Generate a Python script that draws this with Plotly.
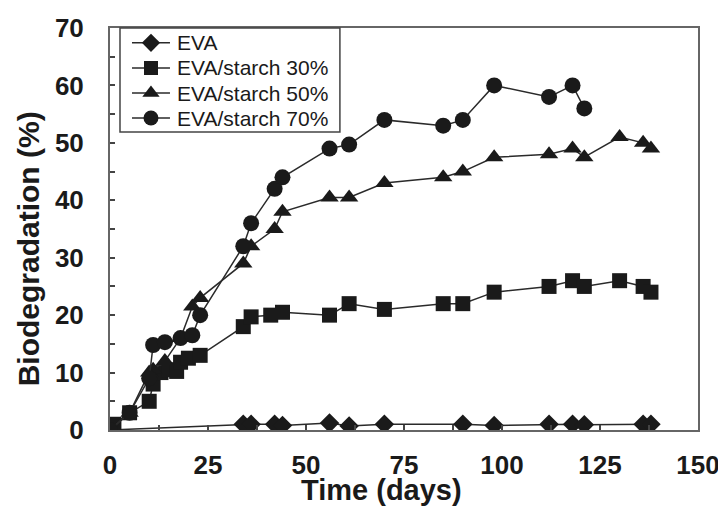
import plotly.graph_objects as go

# Data (days, biodegradation %)
eva_x = [0, 34, 36, 42, 44, 56, 61, 70, 90, 98, 112, 118, 121, 136, 138]
eva_y = [0, 1, 1, 1, 0.8, 1.2, 0.7, 1, 1, 0.8, 1, 1, 0.9, 1, 1]

s30_x = [0, 1, 5, 10, 11, 13, 15, 17, 18, 20, 23, 34, 36, 41, 44, 56, 61, 70, 85, 90, 98, 112, 118, 121, 130, 136, 138]
s30_y = [0, 1, 3, 5, 8, 10, 10.5, 10.2, 11.8, 12.5, 13, 18, 19.7, 20, 20.5, 20, 22, 21, 22, 22, 24, 25, 26, 25, 26, 25, 24]

s50_x = [0, 5, 10, 11, 14, 18, 21, 23, 34, 36, 42, 44, 56, 61, 70, 85, 90, 98, 112, 118, 121, 130, 136, 138]
s50_y = [0, 3, 10, 10.5, 12, 16, 21.5, 23, 29, 32, 35, 38, 40.5, 40.5, 43, 44, 45, 47.5, 48, 49, 47.5, 51, 50, 49]

s70_x = [0, 5, 10, 11, 14, 18, 21, 23, 34, 36, 42, 44, 56, 61, 70, 85, 90, 98, 112, 118, 121]
s70_y = [0, 3, 9, 14.8, 15.3, 16, 16.5, 20, 32, 36, 42, 44, 49, 49.7, 54, 53, 54, 60, 58, 60, 56]

x_ticks = [0, 25, 50, 75, 100, 125, 150]
y_ticks = [0, 10, 20, 30, 40, 50, 60, 70]

names = ["EVA", "EVA/starch 30%", "EVA/starch 50%", "EVA/starch 70%"]
symbols = ["diamond", "square", "triangle-up", "circle"]
sizes = [15, 15, 16, 16]
series = [(eva_x, eva_y), (s30_x, s30_y), (s50_x, s50_y), (s70_x, s70_y)]

FONT = "Liberation Sans, Arial, sans-serif"
INK = "#1a1a1a"
LINE = "#2a2a2a"

fig = go.Figure()
for (xs, ys), n, sym, sz in zip(series, names, symbols, sizes):
    fig.add_trace(go.Scatter(
        x=xs, y=ys, name=n, mode="lines+markers", showlegend=False,
        line=dict(color=LINE, width=1.5),
        marker=dict(symbol=sym, size=sz, color=INK, line=dict(width=0)),
    ))

# Custom legend (paper-coordinate overlay axes)
leg_y = [0.963, 0.9005, 0.838, 0.776]
leg_mx, leg_l0, leg_l1, leg_tx = 0.0697, 0.0374, 0.102, 0.1105
shapes = [dict(type="rect", xref="paper", yref="paper", x0=0.017, x1=0.391, y0=0.741, y1=1.0,
               line=dict(color="#444444", width=1.5), fillcolor="rgba(0,0,0,0)")]
annotations = []
for n, sym, sz, ly in zip(names, symbols, sizes, leg_y):
    fig.add_trace(go.Scatter(
        x=[leg_mx], y=[ly], xaxis="x2", yaxis="y2", mode="markers", showlegend=False,
        marker=dict(symbol=sym, size=sz - 1, color=INK, line=dict(width=0)), hoverinfo="skip",
    ))
    shapes.append(dict(type="line", xref="paper", yref="paper", x0=leg_l0, x1=leg_l1, y0=ly, y1=ly,
                       line=dict(color=LINE, width=1.5), layer="below"))
    annotations.append(dict(text=n, xref="paper", yref="paper", x=leg_tx, y=ly, xanchor="left",
                            yanchor="middle", showarrow=False,
                            font=dict(family=FONT, size=21, color=INK)))

annotations += [
    dict(text="<b>Time (days)</b>", xref="paper", yref="paper", x=0.462, y=-0.149,
         xanchor="center", yanchor="middle", showarrow=False,
         font=dict(family=FONT, size=29, color=INK)),
    dict(text="<b>Biodegradation (%)</b>", xref="paper", yref="paper", x=-0.139, y=0.45,
         xanchor="center", yanchor="middle", textangle=-90, showarrow=False,
         font=dict(family=FONT, size=30, color=INK)),
]

common = dict(showgrid=False, zeroline=False, showline=True, linecolor="#666666", linewidth=2,
              mirror=True, ticks="inside", ticklen=5, tickcolor="#444444", tickwidth=1.5,
              tickfont=dict(family=FONT, size=26, color=INK), automargin=False)

fig.update_layout(
    width=718, height=498,
    margin=dict(l=102, r=28, t=20, b=76),
    paper_bgcolor="white", plot_bgcolor="white",
    font=dict(family=FONT),
    showlegend=False,
    xaxis=dict(range=[0, 150], tickvals=x_ticks, ticktext=["<b>%d</b>" % v for v in x_ticks],
               minor=dict(dtick=12.5, tick0=0, ticks="inside", ticklen=5, tickcolor="#444444"),
               ticklabelstandoff=11, **common),
    yaxis=dict(range=[0, 70], tickvals=y_ticks, ticktext=["<b>%d</b>" % v for v in y_ticks],
               minor=dict(dtick=5, tick0=0, ticks="inside", ticklen=5, tickcolor="#444444"),
               ticklabelstandoff=19, **common),
    xaxis2=dict(range=[0, 1], domain=[0, 1], overlaying="x", visible=False, fixedrange=True),
    yaxis2=dict(range=[0, 1], domain=[0, 1], overlaying="y", visible=False, fixedrange=True),
    shapes=shapes,
    annotations=annotations,
)

fig.write_html("out.html")
